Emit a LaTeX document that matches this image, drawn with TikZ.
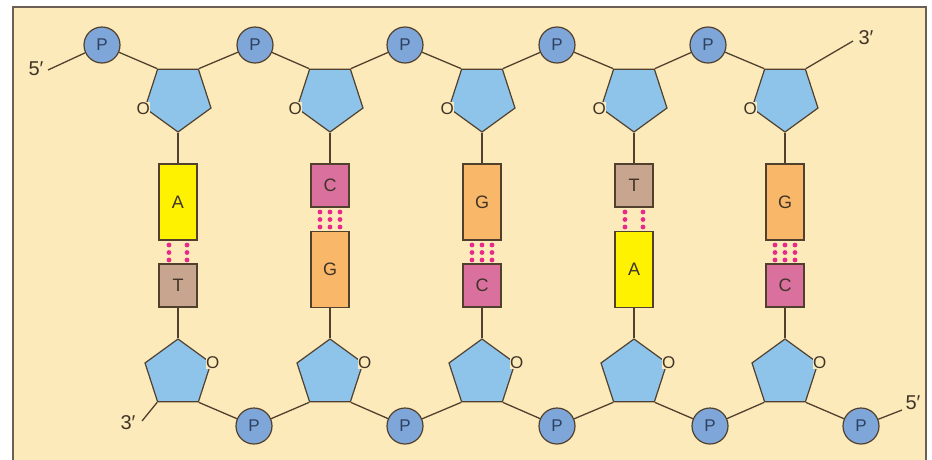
\documentclass[tikz,border=0pt]{standalone}
\usepackage{fontspec}
\setmainfont{Liberation Sans}
\usetikzlibrary{shapes.geometric}
\definecolor{bgc}{HTML}{FDEABB}
\definecolor{framec}{HTML}{6B5F55}
\definecolor{pentc}{HTML}{8EC3EA}
\definecolor{pc}{HTML}{7FA6D8}
\definecolor{linec}{HTML}{50402D}
\definecolor{ac}{HTML}{FFF200}
\definecolor{tc}{HTML}{C8A58E}
\definecolor{cc}{HTML}{D9709E}
\definecolor{gc}{HTML}{F9B769}
\definecolor{dotc}{HTML}{E8288A}
\definecolor{txtc}{HTML}{3F3426}
\definecolor{ptxt}{HTML}{2F4160}
\tikzset{
  bond/.style={draw=linec, line width=1.3pt},
  phos/.style={circle, draw=linec, line width=1.2pt, fill=pc, minimum size=36pt, inner sep=0pt,
    text=ptxt, font=\fontsize{17}{17}\selectfont},
  sugdown/.style={regular polygon, regular polygon sides=5, shape border rotate=180,
    draw=linec, line width=1.2pt, fill=pentc, minimum size=69.4pt, inner sep=0pt},
  sugup/.style={regular polygon, regular polygon sides=5,
    draw=linec, line width=1.2pt, fill=pentc, minimum size=69.4pt, inner sep=0pt},
  oxy/.style={fill=bgc, inner sep=0.2pt, text=txtc, font=\fontsize{17}{17}\selectfont},
  basebox/.style={rectangle, draw=linec, line width=1.2pt, minimum width=38pt, inner sep=0pt,
    text=txtc, font=\fontsize{18}{18}\selectfont},
  longb/.style={basebox, minimum height=76pt},
  shortb/.style={basebox, minimum height=43pt},
  endlbl/.style={text=txtc, font=\fontsize{20}{20}\selectfont, inner sep=0pt},
  hdot/.style={circle, fill=dotc, minimum size=4.8pt, inner sep=0pt},
}
\begin{document}
\begin{tikzpicture}[x=1pt,y=-1pt]
\useasboundingbox (0,0) rectangle (932,459);
\fill[white] (0,0) rectangle (932,459);
\draw[fill=bgc, draw=framec, line width=1.6pt] (13,7) rectangle (926,475);

% top strand
\foreach \i/\x in {1/102,2/255,3/405,4/557,5/708}
  \node[phos] (tp\i) at (\x,45) {P};
\foreach \i/\x in {1/178,2/330,3/482,4/634,5/785}
  \node[sugdown] (ts\i) at (\x,97.3) {};
% bottom strand
\foreach \i/\x in {1/254,2/405,3/557,4/710,5/861}
  \node[phos] (bp\i) at (\x,426) {P};
\foreach \i/\x in {1/178,2/330,3/482,4/634,5/785}
  \node[sugup] (bs\i) at (\x,373.7) {};

% backbone bonds top
\coordinate (e5a) at (48,70);
\coordinate (e3a) at (853,41);
\draw[bond] (e5a) -- (tp1);
\foreach \i/\j in {1/1,2/2,3/3,4/4,5/5}
  \draw[bond] (tp\i) -- (ts\j.corner 4);
\foreach \i/\j in {1/2,2/3,3/4,4/5}
  \draw[bond] (ts\i.corner 3) -- (tp\j);
\draw[bond] (ts5.corner 3) -- (e3a);
% backbone bonds bottom
\coordinate (e3b) at (142,421);
\coordinate (e5b) at (902,410);
\draw[bond] (bs1.corner 3) -- (e3b);
\foreach \i in {1,2,3,4,5}
  \draw[bond] (bs\i.corner 4) -- (bp\i);
\foreach \i/\j in {1/2,2/3,3/4,4/5}
  \draw[bond] (bp\i) -- (bs\j.corner 3);
\draw[bond] (bp5) -- (e5b);

% end labels
\node[endlbl] (l5a) at (36,69) {5′};
\node[endlbl] (l3a) at (866,38) {3′};
\node[endlbl] (l3b) at (128,423) {3′};
\node[endlbl] (l5b) at (913,403) {5′};

% ring oxygens
\foreach \i in {1,...,5} {
  \node[oxy] at ([xshift=-1pt]ts\i.corner 5) {O};
  \node[oxy] at ([xshift=1pt]bs\i.corner 5) {O};
}

% bases
\node[longb, fill=ac] (b1t) at (178,202) {A};
\node[shortb, fill=tc] (b1b) at (178,285.5) {T};
\node[shortb, fill=cc] (b2t) at (330,185.5) {C};
\node[longb, fill=gc] (b2b) at (330,269.5) {G};
\node[longb, fill=gc] (b3t) at (482,202) {G};
\node[shortb, fill=cc] (b3b) at (482,285.5) {C};
\node[shortb, fill=tc] (b4t) at (634,185.5) {T};
\node[longb, fill=ac] (b4b) at (634,269.5) {A};
\node[longb, fill=gc] (b5t) at (785,202) {G};
\node[shortb, fill=cc] (b5b) at (785,285.5) {C};

\foreach \i in {1,...,5} {
  \draw[bond] (ts\i.corner 1) -- (b\i t.north);
  \draw[bond] (b\i b.south) -- (bs\i.corner 1);
}

% hydrogen bonds
\foreach \y in {245,252.5,260} {
  \node[hdot] at (169,\y) {}; \node[hdot] at (187,\y) {};
  \node[hdot] at (625,\y-33) {}; \node[hdot] at (643,\y-33) {};
}
\foreach \y in {212,219.5,227} {
  \foreach \dx in {-10,0,10} {
    \node[hdot] at (330+\dx,\y) {};
    \node[hdot] at (482+\dx,\y+33) {};
    \node[hdot] at (785+\dx,\y+33) {};
  }
}
\end{tikzpicture}
\end{document}
